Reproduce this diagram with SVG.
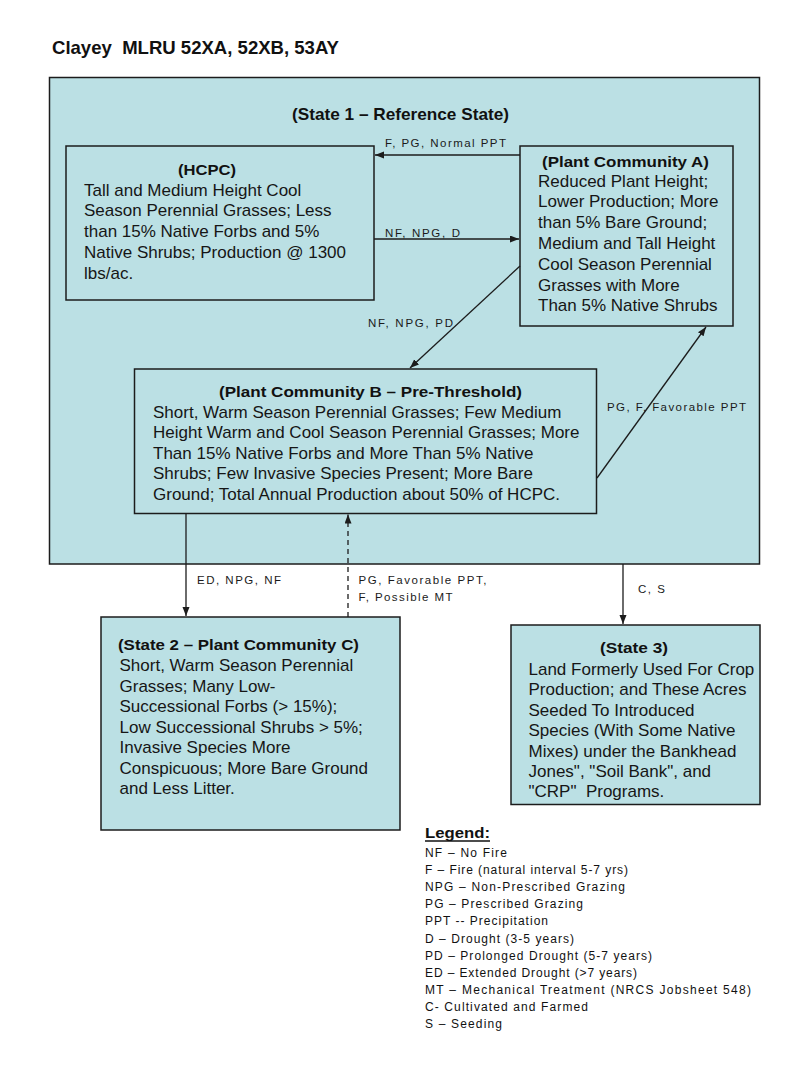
<svg xmlns="http://www.w3.org/2000/svg" width="800" height="1078" viewBox="0 0 800 1078">
<defs>
<style>
.box{fill:#bbe0e4;stroke:#1c1c1c;stroke-width:1.5}
.t{font-family:"Liberation Sans",Arial,sans-serif;font-size:17px;fill:#161616}
.h{font-family:"Liberation Sans",Arial,sans-serif;font-size:15.5px;font-weight:bold;fill:#111}
.lab{font-family:"Liberation Sans",Arial,sans-serif;font-size:11.5px;fill:#1a1a1a}
.leg{font-family:"Liberation Sans",Arial,sans-serif;font-size:12px;fill:#111}
.ln{stroke:#1c1c1c;stroke-width:1.3;fill:none}
</style>
<marker id="ah" markerWidth="10" markerHeight="8" refX="9" refY="3.5" orient="auto" markerUnits="userSpaceOnUse">
<path d="M0,0 L9,3.5 L0,7 z" fill="#1c1c1c"/>
</marker>
</defs>
<rect width="800" height="1078" fill="#ffffff"/>
<text x="52" y="54" font-family="'Liberation Sans',Arial,sans-serif" font-size="18.5" font-weight="bold" fill="#111" textLength="287" lengthAdjust="spacingAndGlyphs" style="white-space:pre">Clayey  MLRU 52XA, 52XB, 53AY</text>

<g id="state1">
<rect class="box" x="49.5" y="77.5" width="710" height="486.5"/>
<text x="292" y="120" font-family="'Liberation Sans',Arial,sans-serif" font-size="17" font-weight="bold" fill="#111" textLength="217" lengthAdjust="spacingAndGlyphs">(State 1 – Reference State)</text>
</g>

<g id="hcpc">
<rect class="box" x="66" y="146" width="308" height="154"/>
<text class="h" x="178" y="175" textLength="58" lengthAdjust="spacingAndGlyphs">(HCPC)</text>
<text class="t" x="84" y="195.5">Tall and Medium Height Cool</text>
<text class="t" x="84" y="216.3">Season Perennial Grasses; Less</text>
<text class="t" x="84" y="237.1">than 15% Native Forbs and 5%</text>
<text class="t" x="84" y="257.9">Native Shrubs; Production @ 1300</text>
<text class="t" x="84" y="278.7">lbs/ac.</text>
</g>

<g id="pcA">
<rect class="box" x="520" y="146" width="213" height="180"/>
<text class="h" x="542" y="167" textLength="167" lengthAdjust="spacingAndGlyphs">(Plant Community A)</text>
<text class="t" x="538" y="186.5">Reduced Plant Height;</text>
<text class="t" x="538" y="207.3">Lower Production; More</text>
<text class="t" x="538" y="228.1">than 5% Bare Ground;</text>
<text class="t" x="538" y="248.9">Medium and Tall Height</text>
<text class="t" x="538" y="269.7">Cool Season Perennial</text>
<text class="t" x="538" y="290.5">Grasses with More</text>
<text class="t" x="538" y="311.3">Than 5% Native Shrubs</text>
</g>

<g id="pcB">
<rect class="box" x="134.5" y="369" width="462" height="144.5"/>
<text class="h" x="219" y="397" textLength="303" lengthAdjust="spacingAndGlyphs">(Plant Community B – Pre-Threshold)</text>
<text class="t" x="153" y="417.5">Short, Warm Season Perennial Grasses; Few Medium</text>
<text class="t" x="153" y="438.1">Height Warm and Cool Season Perennial Grasses; More</text>
<text class="t" x="153" y="458.7">Than 15% Native Forbs and More Than 5% Native</text>
<text class="t" x="153" y="479.3">Shrubs; Few Invasive Species Present; More Bare</text>
<text class="t" x="153" y="499.9">Ground; Total Annual Production about 50% of HCPC.</text>
</g>

<g id="state2">
<rect class="box" x="101" y="617" width="299" height="213"/>
<text class="h" x="118" y="650" textLength="241" lengthAdjust="spacingAndGlyphs">(State 2 – Plant Community C)</text>
<text class="t" x="119.5" y="671">Short, Warm Season Perennial</text>
<text class="t" x="119.5" y="691.5">Grasses; Many Low-</text>
<text class="t" x="119.5" y="712">Successional Forbs (&gt; 15%);</text>
<text class="t" x="119.5" y="732.5">Low Successional Shrubs &gt; 5%;</text>
<text class="t" x="119.5" y="753">Invasive Species More</text>
<text class="t" x="119.5" y="773.5">Conspicuous; More Bare Ground</text>
<text class="t" x="119.5" y="794">and Less Litter.</text>
</g>

<g id="state3">
<rect class="box" x="511" y="625" width="249" height="179.5"/>
<text class="h" x="600" y="653" textLength="68" lengthAdjust="spacingAndGlyphs">(State 3)</text>
<text class="t" x="528.5" y="675">Land Formerly Used For Crop</text>
<text class="t" x="528.5" y="695.4">Production; and These Acres</text>
<text class="t" x="528.5" y="715.8">Seeded To Introduced</text>
<text class="t" x="528.5" y="736.2">Species (With Some Native</text>
<text class="t" x="528.5" y="756.6">Mixes) under the Bankhead</text>
<text class="t" x="528.5" y="777">Jones", "Soil Bank", and</text>
<text class="t" x="528.5" y="797.4" style="white-space:pre">"CRP"  Programs.</text>
</g>

<g id="connectors">
<line class="ln" x1="520" y1="155" x2="375" y2="155" marker-end="url(#ah)"/>
<line class="ln" x1="374" y1="239" x2="519" y2="239" marker-end="url(#ah)"/>
<line class="ln" x1="520" y1="266" x2="410" y2="368" marker-end="url(#ah)"/>
<line class="ln" x1="597" y1="478" x2="706" y2="327" marker-end="url(#ah)"/>
<line class="ln" x1="186" y1="513.5" x2="186" y2="616" marker-end="url(#ah)"/>
<line class="ln" x1="348" y1="617" x2="348" y2="514.5" stroke-dasharray="5,4" marker-end="url(#ah)"/>
<line class="ln" x1="623" y1="564" x2="623" y2="624" marker-end="url(#ah)"/>
<text class="lab" x="385" y="147" textLength="121" lengthAdjust="spacing">F, PG, Normal PPT</text>
<text class="lab" x="385" y="237" textLength="75" lengthAdjust="spacing">NF, NPG, D</text>
<text class="lab" x="368" y="327" textLength="85" lengthAdjust="spacing">NF, NPG, PD</text>
<text class="lab" x="607" y="411" textLength="139" lengthAdjust="spacing">PG, F, Favorable PPT</text>
<text class="lab" x="197" y="584" textLength="84" lengthAdjust="spacing">ED, NPG, NF</text>
<text class="lab" x="358.5" y="584" textLength="128" lengthAdjust="spacing">PG, Favorable PPT,</text>
<text class="lab" x="358.5" y="600.5" textLength="94" lengthAdjust="spacing">F, Possible MT</text>
<text class="lab" x="638" y="593" textLength="27" lengthAdjust="spacing">C, S</text>
</g>

<g id="legend">
<text x="425" y="838" font-family="'Liberation Sans',Arial,sans-serif" font-size="15" font-weight="bold" fill="#111" textLength="65" lengthAdjust="spacingAndGlyphs">Legend:</text>
<line x1="425" y1="841" x2="490" y2="841" stroke="#111" stroke-width="1.4"/>
<text class="leg" x="425" y="857" textLength="82" lengthAdjust="spacing">NF – No Fire</text>
<text class="leg" x="425" y="874.1" textLength="203" lengthAdjust="spacing">F – Fire (natural interval 5-7 yrs)</text>
<text class="leg" x="425" y="891.2" textLength="200" lengthAdjust="spacing">NPG – Non-Prescribed Grazing</text>
<text class="leg" x="425" y="908.3" textLength="158" lengthAdjust="spacing">PG – Prescribed Grazing</text>
<text class="leg" x="425" y="925.4" textLength="123" lengthAdjust="spacing">PPT -- Precipitation</text>
<text class="leg" x="425" y="942.5" textLength="149" lengthAdjust="spacing">D – Drought (3-5 years)</text>
<text class="leg" x="425" y="959.6" textLength="227" lengthAdjust="spacing">PD – Prolonged Drought (5-7 years)</text>
<text class="leg" x="425" y="976.7" textLength="212" lengthAdjust="spacing">ED – Extended Drought (&gt;7 years)</text>
<text class="leg" x="425" y="993.8" textLength="326" lengthAdjust="spacing">MT – Mechanical Treatment (NRCS Jobsheet 548)</text>
<text class="leg" x="425" y="1010.9" textLength="163" lengthAdjust="spacing">C- Cultivated and Farmed</text>
<text class="leg" x="425" y="1028" textLength="77" lengthAdjust="spacing">S – Seeding</text>
</g>
</svg>
